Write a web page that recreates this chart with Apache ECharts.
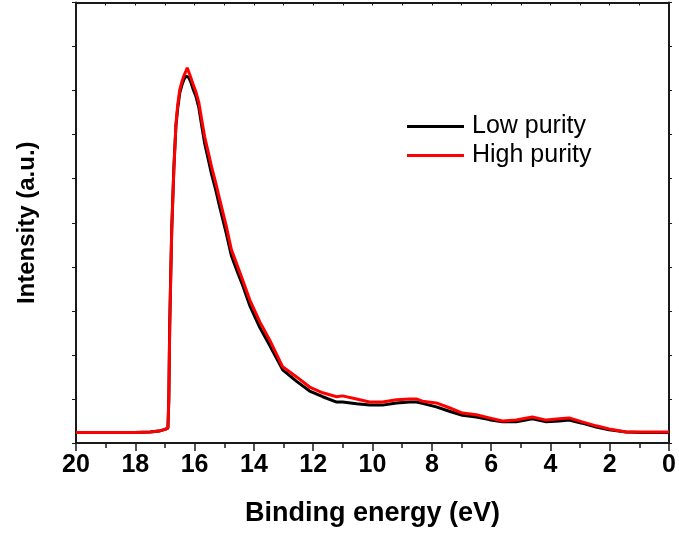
<!DOCTYPE html>
<html>
<head>
<meta charset="utf-8">
<script src="https://cdn.jsdelivr.net/npm/echarts@6/dist/echarts.min.js"></script>
<style>html,body{margin:0;padding:0;background:#fff}#c{width:679px;height:536px}</style>
</head>
<body>
<div id="c"></div>
<script>
// Binding energy (eV)
const energy = [20, 19, 18, 17.5, 17.2, 17.0, 16.9, 16.87, 16.84, 16.80, 16.77, 16.70, 16.63, 16.57, 16.50, 16.43, 16.36, 16.30, 16.25, 16.20, 16.13, 16.06, 15.96, 15.86, 15.76, 15.66, 15.56, 15.42, 15.29, 15.15, 14.93, 14.76, 14.55, 14.38, 14.14, 13.80, 13.47, 13.03, 12.56, 12.12, 11.68, 11.21, 11.01, 10.54, 10.10, 9.66, 9.19, 8.75, 8.52, 8.32, 7.85, 7.41, 6.97, 6.50, 6.06, 5.62, 5.15, 4.61, 4.14, 3.70, 3.37, 2.93, 2.46, 2.02, 1.45, 0.91, 0];
// Intensity (a.u.)
const lowPurity = [0.24, 0.24, 0.24, 0.25, 0.27, 0.31, 0.34, 1.0, 2.7, 4.0, 4.9, 6.25, 7.2, 7.6, 7.95, 8.12, 8.25, 8.33, 8.36, 8.30, 8.20, 8.05, 7.88, 7.62, 7.20, 6.80, 6.50, 6.08, 5.75, 5.35, 4.75, 4.25, 3.87, 3.58, 3.12, 2.62, 2.22, 1.66, 1.40, 1.18, 1.05, 0.93, 0.93, 0.89, 0.86, 0.86, 0.91, 0.93, 0.93, 0.90, 0.82, 0.72, 0.63, 0.59, 0.53, 0.48, 0.48, 0.55, 0.48, 0.50, 0.52, 0.45, 0.36, 0.30, 0.25, 0.24, 0.24];
const highPurity = [0.24, 0.24, 0.24, 0.25, 0.27, 0.31, 0.34, 0.98, 2.57, 3.93, 4.84, 6.20, 7.23, 7.68, 8.02, 8.20, 8.34, 8.43, 8.52, 8.43, 8.30, 8.16, 7.98, 7.74, 7.34, 6.95, 6.66, 6.25, 5.91, 5.52, 4.92, 4.39, 4.01, 3.70, 3.25, 2.75, 2.34, 1.73, 1.50, 1.27, 1.14, 1.05, 1.07, 1.00, 0.93, 0.93, 0.98, 1.00, 1.00, 0.95, 0.91, 0.80, 0.68, 0.64, 0.57, 0.50, 0.52, 0.59, 0.52, 0.55, 0.57, 0.48, 0.39, 0.32, 0.25, 0.25, 0.25];
const seriesNames = ['Low purity', 'High purity'];
const xTicks = [0, 2, 4, 6, 8, 10, 12, 14, 16, 18, 20];

const chart = echarts.init(document.getElementById('c'), null, {renderer: 'canvas'});
const frame = '#1a1a1a';
const font = '"Liberation Sans", Arial, sans-serif';
chart.setOption({
  animation: false,
  backgroundColor: '#fff',
  grid: {left: 76, right: 9, top: 2.5, bottom: 93},
  legend: {
    data: seriesNames,
    orient: 'vertical',
    left: 407, top: 114,
    padding: 0,
    icon: 'rect',
    itemWidth: 57, itemHeight: 3,
    itemGap: 4,
    textStyle: {fontFamily: font, fontSize: 25, color: '#000', lineHeight: 25, padding: [0, 0, 0, 3]}
  },
  xAxis: [{
    type: 'value', inverse: true, min: 0, max: 20, interval: 2,
    position: 'bottom',
    name: 'Binding energy (eV)', nameLocation: 'middle', nameGap: 57,
    nameTextStyle: {fontFamily: font, fontSize: 27, fontWeight: 'bold', color: '#000'},
    axisLine: {show: true, onZero: false, lineStyle: {color: frame, width: 2}},
    axisTick: {show: true, inside: false, length: 8, lineStyle: {color: frame, width: 1.5}},
    minorTick: {show: true, splitNumber: 2, length: 5, lineStyle: {color: frame, width: 1.5}},
    axisLabel: {fontFamily: font, fontSize: 25, fontWeight: 'bold', color: '#000', margin: 10,
      formatter: v => xTicks.includes(v) ? String(v) : ''},
    splitLine: {show: false}
  }, {
    type: 'value', inverse: true, min: 0, max: 20, interval: 1,
    position: 'top',
    axisLine: {show: true, onZero: false, lineStyle: {color: frame, width: 2}},
    axisTick: {show: true, inside: true, length: 3, lineStyle: {color: frame, width: 1}},
    axisLabel: {show: false},
    splitLine: {show: false}
  }],
  yAxis: [{
    type: 'value', min: 0, max: 10, interval: 1,
    position: 'left',
    name: 'Intensity (a.u.)', nameLocation: 'middle', nameGap: 37,
    nameTextStyle: {fontFamily: font, fontSize: 24, fontWeight: 'bold', color: '#000'},
    axisLine: {show: true, onZero: false, lineStyle: {color: frame, width: 2}},
    axisTick: {show: true, inside: false, length: 4, lineStyle: {color: frame, width: 1}},
    axisLabel: {show: false},
    splitLine: {show: false}
  }, {
    type: 'value', min: 0, max: 10, interval: 1,
    position: 'right',
    axisLine: {show: true, onZero: false, lineStyle: {color: frame, width: 2}},
    axisTick: {show: true, inside: false, length: 3, lineStyle: {color: frame, width: 1}},
    axisLabel: {show: false},
    splitLine: {show: false}
  }],
  series: [{
    name: seriesNames[0], type: 'line', xAxisIndex: 0, yAxisIndex: 0,
    data: energy.map((e, i) => [e, lowPurity[i]]),
    showSymbol: false, symbol: 'none',
    itemStyle: {color: '#000'},
    lineStyle: {color: '#000', width: 3}
  }, {
    name: seriesNames[1], type: 'line', xAxisIndex: 0, yAxisIndex: 0,
    data: energy.map((e, i) => [e, highPurity[i]]),
    showSymbol: false, symbol: 'none',
    itemStyle: {color: '#ff0000'},
    lineStyle: {color: '#ff0000', width: 3}
  }]
});
</script>
</body>
</html>
